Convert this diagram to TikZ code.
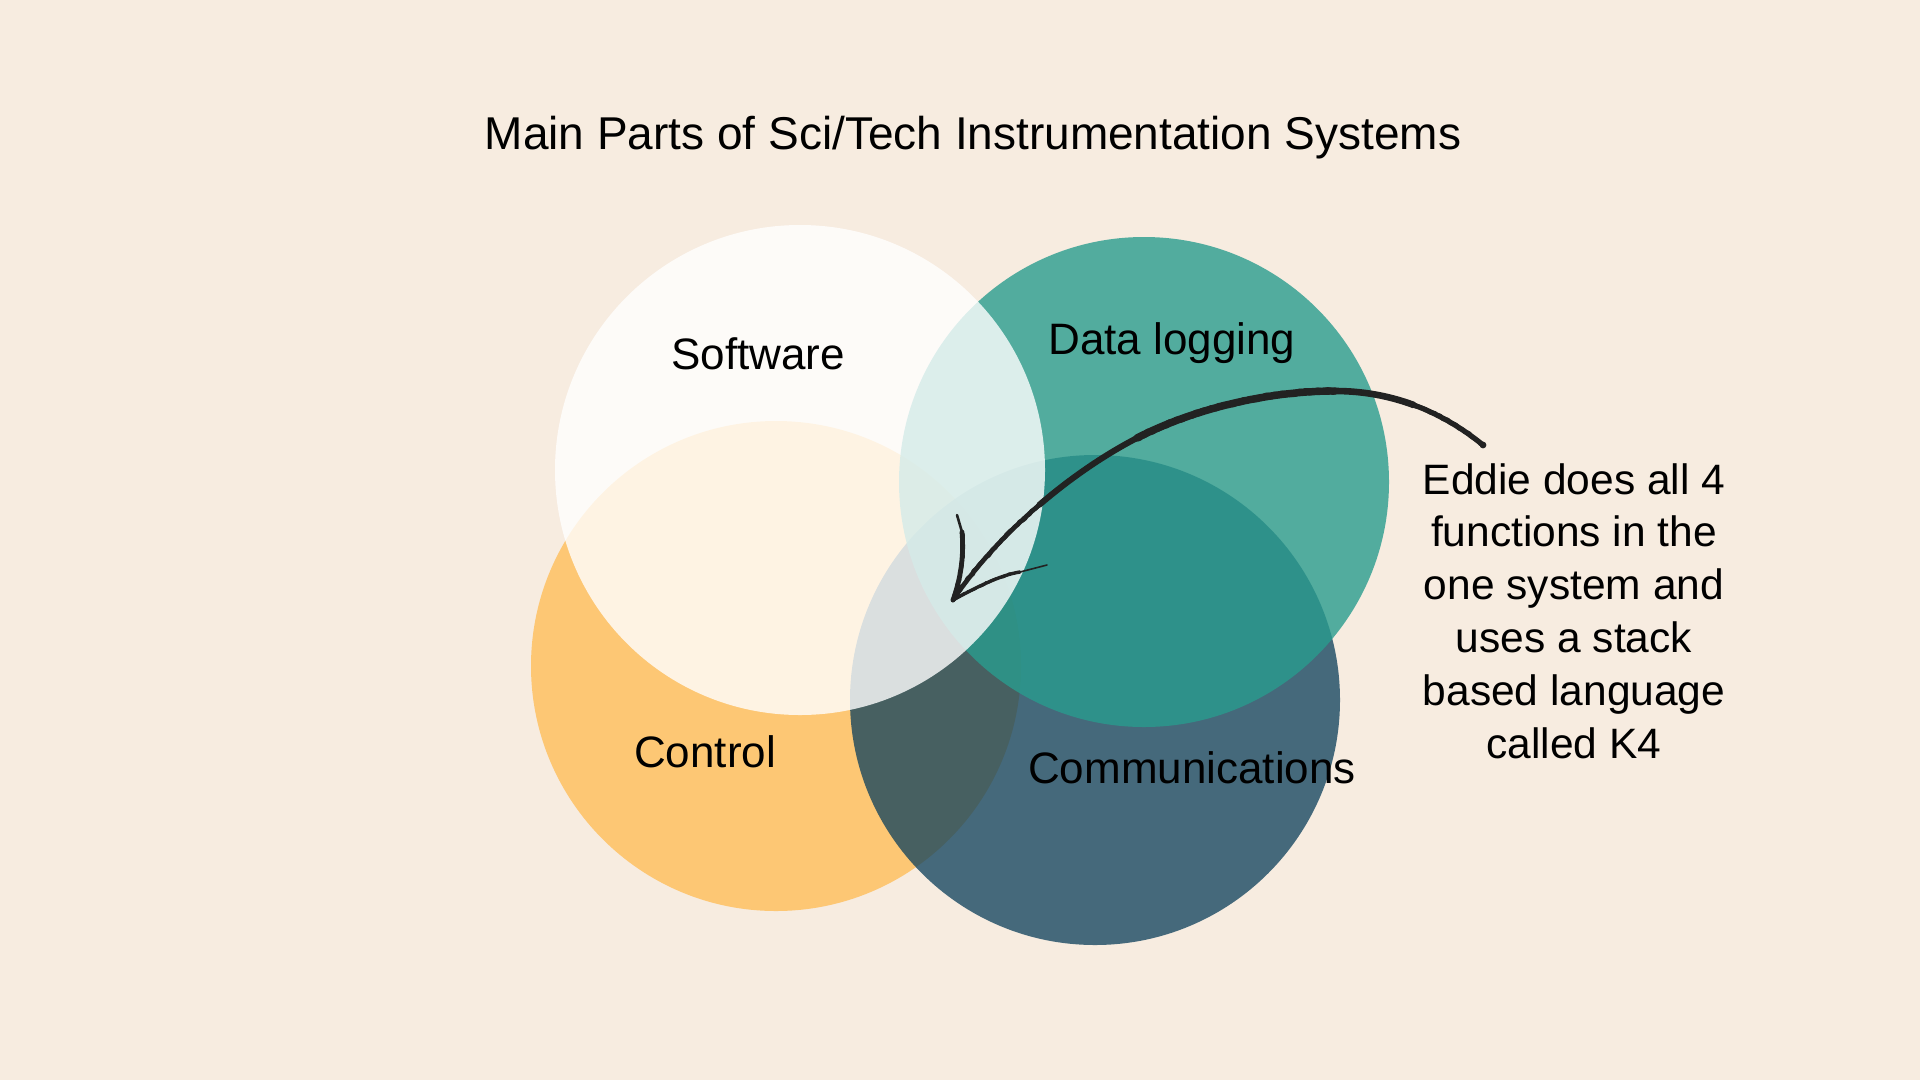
\documentclass[tikz,border=0pt]{standalone}
\usepackage{fontspec}
\usetikzlibrary{decorations.pathmorphing}
\setmainfont{Liberation Sans}
\definecolor{bg}{RGB}{247,236,224}
\definecolor{orangeC}{RGB}{253,199,116}
\definecolor{tealC}{RGB}{41,156,142}
\definecolor{navyC}{RGB}{14,64,92}
\definecolor{inkC}{RGB}{34,34,34}
\begin{document}
\begin{tikzpicture}[x=1pt,y=-1pt,
  venn/.style={circle, minimum size=490pt, inner sep=0pt, draw=none},
  lbl/.style={anchor=base, inner sep=0pt, font=\fontsize{44}{52}\selectfont, text=black},
  ink/.style={draw=inkC, line cap=round, line join=round},
  rough/.style={ink, decorate, decoration={random steps, segment length=2.5pt, amplitude=0.9pt}}]
\pgfmathsetseed{4242}
\fill[bg] (0,0) rectangle (1920,1080);
\useasboundingbox (0,0) rectangle (1920,1080);
% circles
\node[venn, fill=orangeC] (ctl) at (776,666) {};
\node[venn, fill=navyC, fill opacity=0.76] (com) at (1095,700) {};
\node[venn, fill=tealC, fill opacity=0.8] (dat) at (1144,482) {};
\node[venn, fill=white, fill opacity=0.8] (sw) at (800,470) {};
% labels
\node[lbl, font=\fontsize{46}{54}\selectfont] (title) at (973,149) {Main Parts of Sci/Tech Instrumentation Systems};
\node[lbl] (swl) at (758,369) {Software};
\node[lbl] (datl) at (1172,354) {Data logging};
\node[lbl] (ctll) at (705,767) {Control};
\node[lbl] (coml) at (1192,783) {Communications};
\node[anchor=base, inner sep=0pt, align=center, font=\fontsize{42.5}{52.8}\selectfont] (note) at (1574,758)
  {Eddie does all 4\\functions in the\\one system and\\uses a stack\\based language\\called K4};
% arrow (hand-drawn look)
\coordinate (tail) at (1483,445);
\coordinate (top) at (1335,391);
\coordinate (mid) at (1137,438);
\coordinate (tip) at (953,600);
\coordinate (qa) at (1413.5,404.9);
\coordinate (qc) at (1039.4,504.75);
\coordinate (lb3) at (962,532);
\coordinate (lb4) at (957,515);
\coordinate (rb3) at (1020,572);
\coordinate (rb4) at (1047,565);
% segment tail -> top
\draw[ink, line width=5.2pt] (tail) .. controls (1440,410) and (1390,391) .. (top);
\draw[ink, line width=6.6pt] (qa) .. controls (1388.75,395.75) and (1362.5,391) .. (top);
\draw[rough, line width=4.4pt] (tail) .. controls (1440,410) and (1390,391) .. (top);
\fill[inkC] (tail) circle (3.4pt);
% segment top -> mid
\draw[ink, line width=7.4pt] (top) .. controls (1270,391) and (1195,408) .. (mid);
\draw[rough, line width=6.4pt] (top) .. controls (1270,391) and (1195,408) .. (mid);
% segment mid -> tip
\draw[ink, line width=4.6pt] (mid) .. controls (1075,470) and (1000,530) .. (tip);
\draw[ink, line width=6pt] (mid) .. controls (1106,454) and (1071.75,477) .. (qc);
\draw[rough, line width=4pt] (mid) .. controls (1075,470) and (1000,530) .. (tip);
% arrowhead barbs
\draw[ink, line width=4.8pt] (tip) .. controls (961,578) and (964,555) .. (lb3);
\draw[rough, line width=3.8pt] (tip) .. controls (961,578) and (964,555) .. (lb3);
\draw[ink, line width=2.6pt] (lb3) -- (lb4);
\draw[ink, line width=3.4pt] (tip) .. controls (975,588) and (1000,575) .. (rb3);
\draw[rough, line width=2.4pt] (tip) .. controls (975,588) and (1000,575) .. (rb3);
\draw[ink, line width=1.6pt] (rb3) -- (rb4);
\end{tikzpicture}
\end{document}
